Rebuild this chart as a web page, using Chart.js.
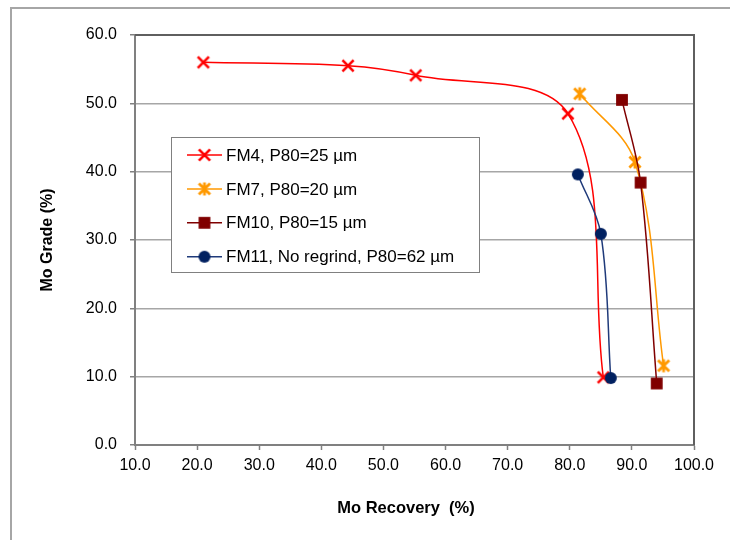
<!DOCTYPE html>
<html>
<head>
<meta charset="utf-8">
<script src="https://cdn.jsdelivr.net/npm/chart.js@4/dist/chart.umd.min.js"></script>
<style>
  html, body { margin: 0; padding: 0; background: #ffffff; }
  #wrap { width: 730px; height: 540px; }
</style>
</head>
<body>
<div id="wrap"><canvas id="chart" width="730" height="540"></canvas></div>
<script>
// Mo recovery (%) and Mo grade (%) for each flotation test
const seriesNames = ['FM4, P80=25 µm', 'FM7, P80=20 µm', 'FM10, P80=15 µm', 'FM11, No regrind, P80=62 µm'];
const fm4Recovery = [21.0, 44.3, 55.2, 79.7, 85.4];
const fm4Grade = [56.0, 55.5, 54.1, 48.5, 9.9];
const fm7Recovery = [81.6, 90.5, 95.1];
const fm7Grade = [51.4, 41.4, 11.6];
const fm10Recovery = [88.4, 91.4, 94.0];
const fm10Grade = [50.5, 38.4, 9.0];
const fm11Recovery = [81.3, 85.0, 86.6];
const fm11Grade = [39.6, 30.9, 9.8];
const recoveryTicks = [10, 20, 30, 40, 50, 60, 70, 80, 90, 100];
const gradeTicks = [0, 10, 20, 30, 40, 50, 60];
const xTitle = 'Mo Recovery  (%)';
const yTitle = 'Mo Grade (%)';

const FONT = '"Liberation Sans", Arial, Helvetica, sans-serif';

function pairs(xs, ys) {
  return xs.map((x, i) => ({ x: x, y: ys[i] }));
}

// Marker glyphs drawn onto small canvases, used both on the plot and in the key
function makeMarker(kind, color) {
  const s = 18, m = s / 2;
  const c = document.createElement('canvas');
  c.width = s; c.height = s;
  const g = c.getContext('2d');
  g.strokeStyle = color;
  g.fillStyle = color;
  g.lineWidth = 2.6;
  g.lineCap = 'butt';
  if (kind === 'x') {
    const r = 5.6;
    g.beginPath();
    g.moveTo(m - r, m - r); g.lineTo(m + r, m + r);
    g.moveTo(m - r, m + r); g.lineTo(m + r, m - r);
    g.stroke();
  } else if (kind === 'asterisk') {
    const r = 5.6;
    g.lineWidth = 2.8;
    g.beginPath();
    g.moveTo(m - r, m - r); g.lineTo(m + r, m + r);
    g.moveTo(m - r, m + r); g.lineTo(m + r, m - r);
    g.moveTo(m, m - r - 0.8); g.lineTo(m, m + r + 0.8);
    g.stroke();
  } else if (kind === 'square') {
    g.fillRect(m - 5.9, m - 5.9, 11.8, 11.8);
  } else {
    g.beginPath();
    g.arc(m, m, 6, 0, Math.PI * 2);
    g.fill();
  }
  return c;
}

const lineColors = ['#FF0000', '#FF9900', '#800000', '#1F3A7A'];
const markers = [
  makeMarker('x', '#FF0000'),
  makeMarker('asterisk', '#FF9900'),
  makeMarker('square', '#800000'),
  makeMarker('circle', '#002060')
];
const seriesData = [
  pairs(fm4Recovery, fm4Grade),
  pairs(fm7Recovery, fm7Grade),
  pairs(fm10Recovery, fm10Grade),
  pairs(fm11Recovery, fm11Grade)
];

const datasets = seriesData.map((d, i) => ({
  label: seriesNames[i],
  data: d,
  showLine: true,
  borderColor: lineColors[i],
  borderWidth: 1.5,
  backgroundColor: lineColors[i],
  pointStyle: markers[i],
  tension: 0.35,
  order: 4 - i
}));

// Outer frame, plot border and horizontal axis caption
const framePlugin = {
  id: 'frame',
  beforeDraw(chart) {
    const ctx = chart.ctx;
    ctx.save();
    ctx.fillStyle = '#ffffff';
    ctx.fillRect(0, 0, chart.width, chart.height);
    ctx.strokeStyle = '#a6a6a6';
    ctx.lineWidth = 2;
    ctx.beginPath();
    ctx.moveTo(11, chart.height);
    ctx.lineTo(11, 8);
    ctx.lineTo(chart.width, 8);
    ctx.stroke();
    ctx.fillStyle = '#000000';
    ctx.font = 'bold 16.5px ' + FONT;
    ctx.textAlign = 'center';
    ctx.textBaseline = 'middle';
    ctx.fillText(xTitle, 406, 508);
    ctx.restore();
  },
  beforeDatasetsDraw(chart) {
    const a = chart.chartArea;
    const ctx = chart.ctx;
    ctx.save();
    ctx.strokeStyle = '#5f5f5f';
    ctx.lineWidth = 2;
    ctx.beginPath();
    ctx.moveTo(a.left, a.top);
    ctx.lineTo(a.right, a.top);
    ctx.lineTo(a.right, a.bottom);
    ctx.stroke();
    ctx.restore();
  }
};

// Boxed key placed inside the plot
const keyPlugin = {
  id: 'key',
  afterDraw(chart) {
    const ctx = chart.ctx;
    const box = { x: 171, y: 137, w: 308, h: 135 };
    ctx.save();
    ctx.fillStyle = '#ffffff';
    ctx.fillRect(box.x, box.y, box.w, box.h);
    ctx.strokeStyle = '#808080';
    ctx.lineWidth = 1;
    ctx.strokeRect(box.x + 0.5, box.y + 0.5, box.w, box.h);
    ctx.font = '17px ' + FONT;
    ctx.textBaseline = 'middle';
    ctx.textAlign = 'left';
    chart.data.datasets.forEach((ds, i) => {
      const cy = 155 + i * 33.9;
      ctx.strokeStyle = ds.borderColor;
      ctx.lineWidth = 1.5;
      ctx.beginPath();
      ctx.moveTo(187, cy);
      ctx.lineTo(222, cy);
      ctx.stroke();
      const mk = ds.pointStyle;
      ctx.drawImage(mk, 204.5 - mk.width / 2, cy - mk.height / 2);
      ctx.fillStyle = '#000000';
      ctx.fillText(ds.label, 226, cy + 1);
    });
    ctx.restore();
  }
};

new Chart(document.getElementById('chart'), {
  type: 'scatter',
  data: { datasets: datasets },
  options: {
    responsive: false,
    animation: false,
    events: [],
    layout: { padding: { left: 35, right: 36, top: 35, bottom: 19 } },
    plugins: { legend: { display: false }, tooltip: { enabled: false } },
    scales: {
      x: {
        type: 'linear',
        min: recoveryTicks[0],
        max: recoveryTicks[recoveryTicks.length - 1],
        afterBuildTicks(scale) { scale.ticks = recoveryTicks.map(v => ({ value: v })); },
        afterFit(scale) { scale.height = 76; },
        ticks: {
          color: '#000000',
          font: { family: FONT, size: 16 },
          padding: 6,
          maxRotation: 0,
          callback: v => Number(v).toFixed(1)
        },
        grid: { drawOnChartArea: false, tickLength: 5, tickColor: '#808080', tickWidth: 1.5 },
        border: { display: true, color: '#808080', width: 2 },
        title: { display: false }
      },
      y: {
        type: 'linear',
        min: gradeTicks[0],
        max: gradeTicks[gradeTicks.length - 1],
        afterBuildTicks(scale) { scale.ticks = gradeTicks.map(v => ({ value: v })); },
        afterFit(scale) { scale.width = 100; },
        ticks: {
          color: '#000000',
          font: { family: FONT, size: 16 },
          padding: 13,
          callback: v => Number(v).toFixed(1)
        },
        grid: { color: '#a6a6a6', lineWidth: 1.5, tickLength: 5, tickColor: '#808080', tickWidth: 1.5 },
        border: { display: true, color: '#808080', width: 2 },
        title: {
          display: true,
          text: yTitle,
          color: '#000000',
          font: { family: FONT, size: 16, weight: 'bold' },
          padding: { top: 3, bottom: 4 }
        }
      }
    }
  },
  plugins: [framePlugin, keyPlugin]
});
</script>
</body>
</html>
